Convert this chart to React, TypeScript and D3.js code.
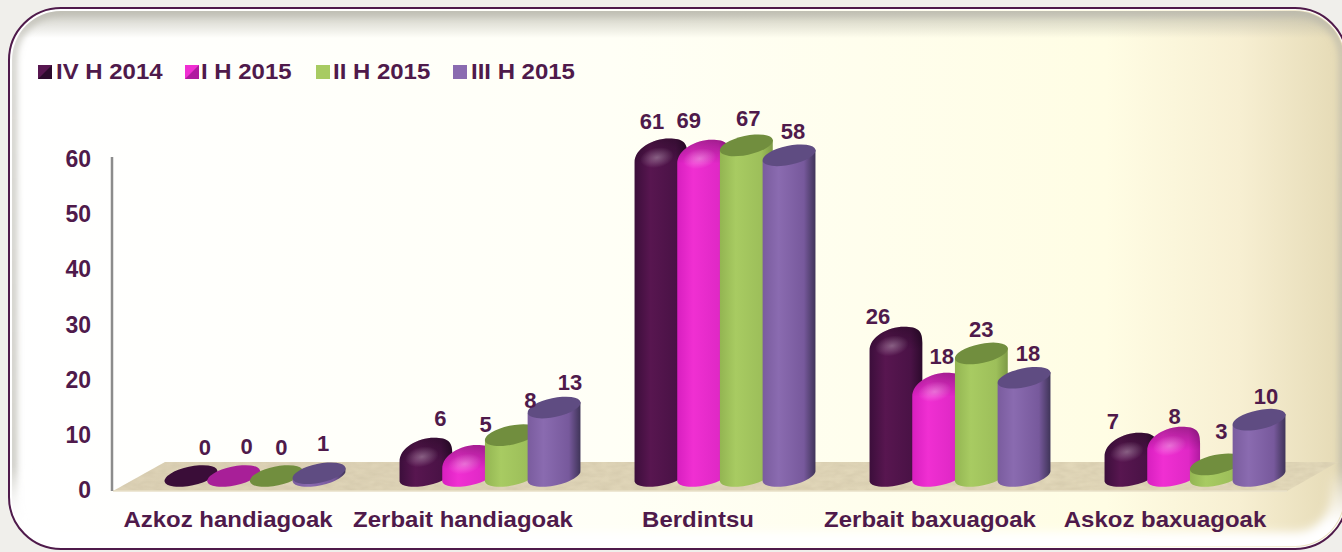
import React from "react";
import * as d3 from "d3";

const categories = ["Azkoz handiagoak", "Zerbait handiagoak", "Berdintsu", "Zerbait baxuagoak", "Askoz baxuagoak"];
const seriesNames = ["IV H 2014", "I H 2015", "II H 2015", "III H 2015"];
const yTicks = [0, 10, 20, 30, 40, 50, 60];

// Heights of the drawn columns
const heightsIVH2014 = [0, 5.0, 59.2, 25.1, 5.9];
const heightsIH2015 = [0, 3.7, 59.0, 16.8, 7.0];
const heightsIIH2015 = [0, 7.4, 59.9, 22.2, 2.1];
const heightsIIIH2015 = [0.5, 12.4, 58.1, 17.8, 10.2];
const seriesHeights = [heightsIVH2014, heightsIH2015, heightsIIH2015, heightsIIIH2015];

// Printed data labels
const labelsIVH2014 = ["0", "6", "61", "26", "7"];
const labelsIH2015 = ["0", "5", "69", "18", "8"];
const labelsIIH2015 = ["0", "8", "67", "23", "3"];
const labelsIIIH2015 = ["1", "13", "58", "18", "10"];
const seriesLabels = [labelsIVH2014, labelsIH2015, labelsIIH2015, labelsIIIH2015];

// Manual label placement (layout only)
const labelDx = [[14, 14.5, -9, -18, -18], [13, 17, -15, 3, 1], [5, 19, 2, 0, 5], [4, 16, 4, 4, 7]];
const labelDy = [[-18, -20, -18, -11, -12], [-19, -21, -20, -17, -11], [-18, -24, -17, -14, -23], [-20, -15, -14, -14, -13]];
const categoryDx = [-27, -27, -27, -30, -30];

const INK = "#4f1a4b";
const FONT = "'Liberation Sans', Arial, sans-serif";
const styles = [
  { id: "s0", stops: ["#3c0e3b", "#581650", "#4a1246", "#2c0a2c"], top: "#3a0d38", dome: true },
  { id: "s1", stops: ["#d81fc0", "#f02fd2", "#e028c6", "#b01aa0"], top: "#a81f98", dome: true },
  { id: "s2", stops: ["#93b552", "#a8cb62", "#9dbf5a", "#7d9a45"], top: "#718e3e", dome: false },
  { id: "s3", stops: ["#7a5c9e", "#8a6bb0", "#77599c", "#3f3458"], top: "#5f4c82", dome: false },
];

const y = d3.scaleLinear().domain([0, 60]).range([490, 158.8]);
const x0 = d3.scaleBand<string>().domain(categories).range([137.5, 1312.5]);
const x1 = d3.scaleBand<string>().domain(seriesNames).range([-85.4, 85.4]);
const BASE_OFFSET = 14;
const RX = 27, RY = 9.5, TILT = -12;
const DX = RX * Math.cos((TILT * Math.PI) / 180);
const DY = RX * Math.sin((-TILT * Math.PI) / 180);
const EXT = 10.6;
const TEXT_STRETCH = 1.09;

function Bar({ si, ci }: { si: number; ci: number }) {
  const st = styles[si];
  const v = seriesHeights[si][ci];
  const cx = x0(categories[ci])! + x0.bandwidth() / 2 + x1(seriesNames[si])! + x1.bandwidth() / 2;
  const by = y(0) - BASE_OFFSET;
  const ty = y(v) - BASE_OFFSET;
  const T = ty - EXT;
  const L = cx - DX, R = cx + DX;
  const bottom = `M${L},${by + DY}A${RX},${RY} ${TILT} 0 0 ${R},${by - DY}`;
  if (v < 1) {
    return (
      <g>
        {v > 0 && <path d={`${bottom}L${R},${ty - DY}L${L},${ty + DY}Z`} fill={`url(#${st.id})`} />}
        <ellipse cx={cx} cy={v > 0 ? ty : by} rx={RX} ry={RY} transform={`rotate(${TILT} ${cx} ${v > 0 ? ty : by})`} fill={st.top} />
      </g>
    );
  }
  if (!st.dome) {
    return (
      <g>
        <path d={`${bottom}L${R},${ty - DY}L${L},${ty + DY}Z`} fill={`url(#${st.id})`} />
        <ellipse cx={cx} cy={ty} rx={RX} ry={RY} transform={`rotate(${TILT} ${cx} ${ty})`} fill={st.top} />
      </g>
    );
  }
  const domeTop = `L${R},${T + 16}C${R},${T + 4} ${R - 4},${T} ${cx + 8},${T}C${cx - 8},${T} ${L},${T + 10} ${L},${T + 24}`;
  return (
    <g>
      <path d={`${bottom}${domeTop}Z`} fill={`url(#${st.id})`} />
      <path d={`M${R},${T + 24}L${R},${T + 16}C${R},${T + 4} ${R - 4},${T} ${cx + 8},${T}C${cx - 8},${T} ${L},${T + 10} ${L},${T + 24}Z`} fill="url(#domeShade)" />
      <ellipse cx={cx - 4} cy={T + 19} rx={17} ry={10} transform={`rotate(${TILT} ${cx - 4} ${T + 19})`} fill="url(#glow)" />
    </g>
  );
}

export default function App() {
  const legendX = [38, 185, 316, 453];
  const legendTextX = [56, 201, 333, 471];
  const floorBack = 462, floorFront = 491;
  const floorPts = `113,${floorFront} 165,${floorBack} 1338,${floorBack} 1287,${floorFront}`;
  return (
    <svg width={1342} height={552} viewBox="0 0 1342 552"
      style={{ position: "absolute", left: 0, top: 0, display: "block" }} fontFamily={FONT} fontWeight={700}>
      <defs>
        <linearGradient id="panel" x1="0" x2="1" y1="0" y2="0">
          <stop offset="0" stopColor="#ffffff" />
          <stop offset="0.45" stopColor="#fffff6" />
          <stop offset="0.82" stopColor="#fffde4" />
          <stop offset="0.92" stopColor="#f7efd2" />
          <stop offset="1" stopColor="#e4d9b4" />
        </linearGradient>
        <linearGradient id="bevelTop" x1="0" x2="0" y1="0" y2="1">
          <stop offset="0" stopColor="#b3b2a5" stopOpacity="0.7" />
          <stop offset="1" stopColor="#b3b2a5" stopOpacity="0" />
        </linearGradient>
        <linearGradient id="ringShade" x1="0" x2="0" y1="0" y2="1">
          <stop offset="0" stopColor="#b5b4aa" stopOpacity="0.7" />
          <stop offset="0.85" stopColor="#b5b4aa" stopOpacity="0.85" />
          <stop offset="0.97" stopColor="#b5b4aa" stopOpacity="0" />
        </linearGradient>
        <linearGradient id="ringLight" x1="0" x2="0" y1="0" y2="1">
          <stop offset="0.86" stopColor="#ffffff" stopOpacity="0" />
          <stop offset="0.96" stopColor="#ffffff" stopOpacity="1" />
        </linearGradient>
        <filter id="soft" x="-5%" y="-5%" width="110%" height="110%"><feGaussianBlur stdDeviation="3.5" /></filter>
        <filter id="softer" x="-5%" y="-5%" width="110%" height="110%"><feGaussianBlur stdDeviation="5" /></filter>
        <linearGradient id="floor" x1="0" x2="1" y1="0" y2="0">
          <stop offset="0" stopColor="#ddd2b6" />
          <stop offset="1" stopColor="#e3d9ba" />
        </linearGradient>
        <filter id="mottle" x="0" y="0" width="100%" height="100%">
          <feTurbulence type="fractalNoise" baseFrequency="0.09 0.22" numOctaves="2" seed="4" />
          <feColorMatrix values="0 0 0 0 0.55  0 0 0 0 0.48  0 0 0 0 0.33  0 0 0 0.55 -0.14" />
          <feComposite in2="SourceAlpha" operator="in" />
        </filter>
        {styles.map((s) => (
          <linearGradient key={s.id} id={s.id} x1="0" x2="1" y1="0" y2="0">
            <stop offset="0" stopColor={s.stops[0]} />
            <stop offset="0.3" stopColor={s.stops[1]} />
            <stop offset="0.78" stopColor={s.stops[2]} />
            <stop offset="1" stopColor={s.stops[3]} />
          </linearGradient>
        ))}
        <linearGradient id="domeShade" x1="0" x2="0" y1="0" y2="1">
          <stop offset="0" stopColor="#000000" stopOpacity="0.28" />
          <stop offset="1" stopColor="#000000" stopOpacity="0" />
        </linearGradient>
        <radialGradient id="glow">
          <stop offset="0" stopColor="#ffffff" stopOpacity="0.32" />
          <stop offset="1" stopColor="#ffffff" stopOpacity="0" />
        </radialGradient>
        <clipPath id="innerClip"><rect x={12} y={11} width={1332} height={535} rx={49} /></clipPath>
      </defs>

      <rect width={1342} height={552} fill="#f0efeb" />
      <rect x={9} y={8} width={1338} height={541} rx={52} fill="url(#panel)" />
      <g clipPath="url(#innerClip)">
        <rect x={12} y={11} width={1332} height={27} fill="url(#bevelTop)" />
        <rect x={13} y={12} width={1330} height={533} rx={48} fill="none" stroke="url(#ringShade)" strokeWidth={7} filter="url(#soft)" />
        <rect x={13} y={12} width={1330} height={533} rx={48} fill="none" stroke="url(#ringLight)" strokeWidth={26} filter="url(#softer)" />
      </g>
      <rect x={10.5} y={9.5} width={1335} height={538} rx={50.5} fill="none" stroke="#ffffff" strokeWidth={1.5} opacity={0.85} />
      <rect x={9} y={8} width={1338} height={541} rx={52} fill="none" stroke="#4f1a4b" strokeWidth={2} />

      {/* floor */}
      <polygon points={floorPts} fill="url(#floor)" />
      <polygon points={floorPts} fill="#000" filter="url(#mottle)" />
      <line x1={113} x2={1287} y1={floorFront} y2={floorFront} stroke="#e9e1c8" strokeWidth={1.5} />

      {/* axis */}
      <line x1={112} x2={112} y1={157} y2={491} stroke="#8c8c8c" strokeWidth={2.5} />
      {yTicks.map((t) => (
        <text key={t} x={91} y={y(t)} dy="0.36em" textAnchor="end" fontSize={23} fill={INK}>{t}</text>
      ))}

      {/* bars */}
      {categories.map((c, ci) => (
        <g key={c}>{seriesNames.map((s, si) => <Bar key={s} si={si} ci={ci} />)}</g>
      ))}

      {/* data labels */}
      {categories.map((c, ci) => seriesNames.map((s, si) => {
        const cx = x0(c)! + x0.bandwidth() / 2 + x1(s)! + x1.bandwidth() / 2;
        const T = y(seriesHeights[si][ci]) - BASE_OFFSET - EXT;
        return (
          <text key={c + s} x={cx + labelDx[si][ci]} y={T + labelDy[si][ci]} dy="0.36em" textAnchor="middle" fontSize={22} fill={INK}>
            {seriesLabels[si][ci]}
          </text>
        );
      }))}

      {/* category labels */}
      {categories.map((c, i) => (
        <text key={c} transform={`translate(${x0(c)! + x0.bandwidth() / 2 + categoryDx[i]},519) scale(${TEXT_STRETCH},1)`} dy="0.36em" textAnchor="middle" fontSize={22} fill={INK}>{c}</text>
      ))}

      {/* legend */}
      {seriesNames.map((s, i) => {
        const lx = legendX[i], ly = 65, size = 14;
        const st = styles[i];
        return (
          <g key={s}>
            {st.dome ? (
              <g>
                <rect x={lx} y={ly} width={size} height={size} fill={st.stops[1]} />
                <polygon points={`${lx},${ly + size} ${lx + size},${ly} ${lx + size},${ly + size}`} fill={st.stops[3]} />
              </g>
            ) : (
              <rect x={lx} y={ly} width={size} height={size} fill={st.stops[1]} />
            )}
            <text transform={`translate(${legendTextX[i]},71.5) scale(${TEXT_STRETCH},1)`} dy="0.36em" fontSize={22} fill={INK}>{s}</text>
          </g>
        );
      })}
    </svg>
  );
}
